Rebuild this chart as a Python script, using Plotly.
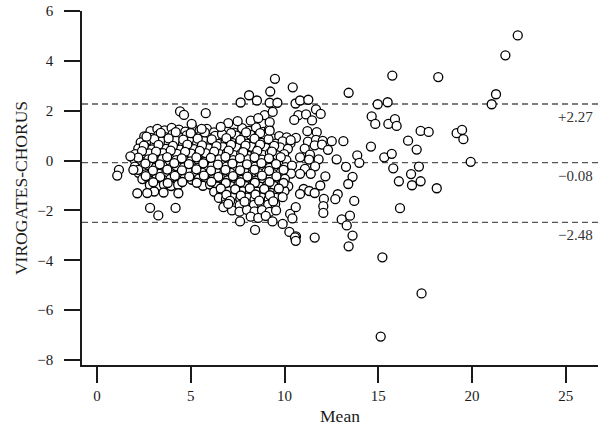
import plotly.graph_objects as go

# (mean, difference) pairs
pts_dense = [
    (2.85,1.18),(3.22,1.27),(3.61,1.21),(3.98,1.31),(4.37,1.24),(4.71,1.16),(5.12,1.29),(5.47,1.2),(5.86,1.27),(6.24,1.13),(6.92,1.22),(7.31,1.12),(7.74,1.3),(8.12,1.19),(8.48,1.33),(8.87,1.15),(9.18,1.26),
    (2.52,0.97),(2.88,0.91),(3.27,1.02),(3.63,0.94),(4.02,1.05),(4.41,0.93),(4.78,1.01),(5.16,0.95),(5.55,1.04),(5.91,0.92),(6.3,0.99),(6.67,1.06),(7.05,0.93),(7.43,1.0),(7.82,0.94),(8.2,1.03),(8.58,0.96),(8.95,1.02),(9.34,0.9),(9.72,0.98),(10.12,0.93),
    (2.33,0.73),(2.7,0.8),(3.08,0.69),(3.45,0.77),(3.82,0.71),(4.2,0.8),(4.59,0.68),(4.96,0.76),(5.34,0.7),(5.72,0.79),(6.1,0.72),(6.48,0.67),(6.86,0.78),(7.24,0.7),(7.62,0.76),(8.0,0.68),(8.39,0.79),(8.77,0.71),(9.15,0.74),(9.53,0.68),(9.9,0.77),(10.32,0.7),
    (2.2,0.48),(2.56,0.55),(2.93,0.45),(3.3,0.53),(3.68,0.47),(4.05,0.56),(4.43,0.44),(4.81,0.52),(5.18,0.46),(5.57,0.55),(5.95,0.49),(6.33,0.43),(6.71,0.54),(7.09,0.47),(7.47,0.52),(7.85,0.44),(8.24,0.55),(8.62,0.48),(9.0,0.51),(9.38,0.45),(9.77,0.53),(10.18,0.47),
    (2.04,0.26),(2.41,0.2),(2.78,0.29),(3.15,0.22),(3.52,0.3),(3.9,0.21),(4.27,0.27),(4.65,0.19),(5.03,0.28),(5.41,0.23),(5.79,0.3),(6.17,0.2),(6.55,0.26),(6.93,0.31),(7.31,0.22),(7.69,0.28),(8.07,0.19),(8.46,0.27),(8.84,0.23),(9.22,0.3),(9.61,0.21),(9.98,0.26),
    (2.0,0.03),(2.37,-0.04),(2.74,0.05),(3.11,-0.02),(3.48,0.06),(3.86,-0.05),(4.23,0.02),(4.61,0.07),(4.99,-0.03),(5.37,0.04),(5.75,-0.06),(6.13,0.03),(6.51,0.05),(6.89,-0.04),(7.27,0.02),(7.65,-0.05),(8.03,0.06),(8.42,-0.02),(8.8,0.04),(9.18,-0.05),(10.1,0.02),
    (2.02,-0.24),(2.39,-0.3),(2.76,-0.2),(3.13,-0.28),(3.5,-0.22),(3.88,-0.31),(4.25,-0.23),(4.63,-0.27),(5.01,-0.19),(5.39,-0.29),(5.77,-0.25),(6.15,-0.21),(6.53,-0.3),(6.91,-0.24),(7.29,-0.27),(7.67,-0.2),(8.05,-0.31),(8.44,-0.24),(8.82,-0.22),(9.2,-0.29),(10.05,-0.26),(10.4,-0.2),
    (2.22,-0.49),(2.59,-0.55),(2.96,-0.46),(3.33,-0.53),(3.7,-0.47),(4.08,-0.56),(4.46,-0.5),(4.84,-0.44),(5.22,-0.54),(5.6,-0.48),(5.98,-0.52),(6.36,-0.45),(6.74,-0.55),(7.12,-0.49),(7.5,-0.53),(7.88,-0.46),(8.27,-0.55),(8.65,-0.5),(9.03,-0.45),(9.41,-0.54),(9.8,-0.48),(10.35,-0.52),
    (2.42,-0.74),(2.8,-0.8),(3.17,-0.71),(3.54,-0.78),(3.92,-0.73),(4.3,-0.81),(4.68,-0.7),(5.06,-0.77),(5.44,-0.72),(5.82,-0.8),(6.2,-0.74),(6.58,-0.7),(6.96,-0.79),(7.34,-0.73),(7.72,-0.77),(8.1,-0.7),(8.49,-0.8),(8.87,-0.74),(9.25,-0.71),(9.63,-0.78),(10.02,-0.73),
    (2.82,-0.98),(3.2,-1.04),(3.57,-0.96),(3.95,-1.02),(4.33,-0.97),(5.65,-1.01),(6.03,-0.96),(6.41,-1.04),(6.79,-0.99),(7.17,-1.03),(7.55,-0.95),(7.93,-1.02),(8.31,-0.97),(8.7,-1.05),(9.08,-0.98),(9.46,-1.02),(9.85,-0.96),(10.2,-1.03),
    (3.05,-1.24),(3.55,-1.28),(6.25,-1.25),(6.63,-1.3),(7.01,-1.22),(7.39,-1.29),(7.77,-1.23),(8.15,-1.3),(8.53,-1.24),(8.91,-1.21),(9.29,-1.3),(9.67,-1.25),(10.0,-1.22),
    (6.5,-1.5),(6.88,-1.55),(7.26,-1.47),(7.64,-1.53),(8.02,-1.49),(8.4,-1.56),(8.78,-1.48),(9.16,-1.54),(9.54,-1.5),(9.9,-1.47),
    (6.85,-1.76),(7.23,-1.72),(7.61,-1.79),(7.99,-1.73),(8.37,-1.78),(8.75,-1.71),(9.13,-1.77),(9.5,-1.74),
    (7.2,-2.0),(7.6,-2.05),(8.0,-1.98),(8.4,-2.04),(8.8,-1.99),(9.2,-2.06),(9.55,-2.0),
    (8.2,-2.25),(8.6,-2.3),(9.0,-2.22),
]

pts_fill = [
    (3.4,1.11),(4.2,1.14),(5.0,1.1),(5.75,1.13),(7.15,1.1),(7.95,1.13),(8.7,1.1),
    (3.05,0.86),(3.82,0.89),(4.6,0.84),(5.37,0.88),(6.12,0.85),(6.9,0.9),(7.65,0.83),(8.4,0.88),(9.15,0.86),
    (2.5,0.6),(3.28,0.63),(4.05,0.59),(4.82,0.64),(5.6,0.61),(6.37,0.58),(7.15,0.63),(7.92,0.6),(8.7,0.64),(9.45,0.59),
    (2.4,0.38),(3.15,0.36),(3.93,0.4),(4.7,0.35),(5.48,0.39),(6.25,0.36),(7.02,0.4),(7.8,0.34),(8.55,0.39),(9.33,0.36),
    (2.2,0.12),(2.97,0.1),(3.74,0.14),(4.52,0.09),(5.3,0.13),(6.07,0.11),(6.85,0.15),(7.62,0.1),(8.4,0.13),(9.17,0.09),(9.8,0.14),
    (2.58,-0.12),(3.35,-0.15),(4.12,-0.1),(4.9,-0.14),(5.67,-0.11),(6.45,-0.16),(7.22,-0.12),(8.0,-0.15),(8.77,-0.1),(9.55,-0.14),
    (2.2,-0.37),(2.98,-0.4),(3.75,-0.36),(4.53,-0.39),(5.3,-0.35),(6.08,-0.4),(6.85,-0.37),(7.63,-0.39),(8.4,-0.36),(9.18,-0.41),(9.95,-0.37),
    (2.6,-0.62),(3.37,-0.65),(4.15,-0.61),(4.92,-0.64),(5.7,-0.6),(6.47,-0.65),(7.25,-0.62),(8.02,-0.64),(8.8,-0.6),(9.57,-0.63),
    (3.0,-0.87),(3.77,-0.9),(4.55,-0.86),(5.32,-0.89),(6.1,-0.85),(6.87,-0.9),(7.65,-0.87),(8.42,-0.89),(9.2,-0.86),(9.95,-0.9),
    (6.6,-1.12),(7.37,-1.15),(8.15,-1.11),(8.92,-1.14),(9.7,-1.12),
    (6.9,-1.37),(7.67,-1.4),(8.45,-1.36),(9.22,-1.39),
    (7.1,-1.62),(7.87,-1.65),(8.65,-1.61),(9.4,-1.64),
]

pts_left = [
    (1.17,-0.37),(1.08,-0.6),(1.78,0.17),(1.94,-0.37),(2.15,-1.31),(2.68,-1.3),(2.83,-1.9),(3.27,-2.2),
    (4.19,-1.9),(4.34,-1.31),(4.43,1.97),(4.64,1.83),(2.64,0.96),
]

pts_mid = [
    (5.8,1.9),(5.05,1.47),(5.58,1.27),(7.5,1.58),(7.66,2.33),(8.11,2.62),(8.53,2.41),(9.24,2.77),(9.21,2.32),
    (9.62,2.32),(9.49,3.28),(10.44,2.94),(10.59,2.29),(8.94,1.82),(9.37,1.95),(9.21,1.54),(10.74,1.82),(10.52,1.63),
    (9.21,1.2),(10.61,0.91),(10.33,0.82),(7.0,1.5),(6.6,1.35),(8.2,1.6),(8.6,1.7),
    (6.74,-1.87),(7.0,-1.74),(7.63,-2.44),(8.43,-2.78),(9.36,-2.44),(9.9,-2.54),(10.26,-2.86),(10.61,-3.04),
    (10.3,-2.14),(10.6,-1.87),(10.56,-3.08),(10.42,-2.32),(10.6,-3.22),
]

pts_right = [
    (10.83,2.41),(11.27,2.44),(11.68,2.05),(11.93,1.87),(11.15,1.85),(11.47,1.61),(11.22,1.18),(11.72,1.14),
    (11.25,0.76),(11.68,0.83),(12.04,0.79),(12.52,0.78),(13.14,0.78),(11.08,0.48),(11.61,0.61),(12.0,0.64),
    (12.32,0.43),(11.36,0.24),(11.82,0.05),(11.31,0.04),(10.83,0.13),(12.78,0.05),(13.88,0.21),(13.99,-0.09),
    (13.28,-0.25),(11.63,-0.23),(11.09,-0.33),(10.83,-0.53),(11.4,-0.53),(12.18,-0.63),(13.63,-0.65),(13.4,-0.94),
    (11.91,-1.0),(11.02,-1.14),(11.32,-1.22),(11.61,-1.3),(10.83,-1.34),(12.84,-1.35),(12.71,-1.55),(13.72,-1.62),
    (12.1,-1.54),(12.07,-1.83),(12.07,-2.1),(13.49,-2.21),(13.05,-2.36),(13.32,-2.6),(11.61,-3.09),(13.63,-3.01),
    (13.42,-3.44),(13.42,2.72),
    (14.97,2.26),(15.5,2.34),(14.65,1.77),(14.84,1.47),(15.54,1.47),(15.89,1.66),(15.98,1.39),(17.26,1.19),
    (17.69,1.15),(16.59,0.8),(17.05,0.44),(14.61,0.56),(15.32,0.13),(15.72,0.27),(15.8,-0.31),(17.17,-0.24),
    (16.75,-0.54),(16.1,-0.83),(16.8,-0.99),(17.26,-0.83),(16.16,-1.91),(15.75,3.41),
    (15.22,-3.88),(17.31,-5.33),(15.13,-7.06),
    (22.44,5.02),(21.78,4.22),(18.2,3.35),(21.28,2.66),(21.05,2.26),(19.18,1.1),(19.47,1.23),(19.54,0.86),
    (19.93,-0.05),(18.12,-1.11),
]

limits = [2.27, -0.08, -2.48]
limit_labels = ["+2.27", "\u22120.08", "\u22122.48"]
x_ticks = [0, 5, 10, 15, 20, 25]
y_ticks = [-8, -6, -4, -2, 0, 2, 4, 6]

all_pts = pts_dense + pts_fill + pts_left + pts_mid + pts_right
mean = [p[0] for p in all_pts]
diff = [p[1] for p in all_pts]

FONT = "Liberation Serif"
INK = "#1a1a1a"
fig = go.Figure()
fig.add_trace(go.Scatter(
    x=mean, y=diff, mode="markers",
    marker=dict(size=9, color="white", line=dict(color="black", width=1.3)),
    showlegend=False, hoverinfo="skip",
))

for v, lab in zip(limits, limit_labels):
    fig.add_shape(type="line", xref="paper", x0=0, x1=1, yref="y", y0=v, y1=v,
                  line=dict(color="#555555", width=1.3, dash="6px,4px"), layer="below")
    fig.add_annotation(xref="paper", x=0.995, xanchor="right", yref="y", y=v,
                       yanchor="top", yshift=-3, text=lab, showarrow=False,
                       font=dict(family=FONT, size=15, color="#333333"))

fig.update_layout(
    template="none",
    width=602, height=428,
    margin=dict(l=82, r=4, t=11, b=63),
    paper_bgcolor="white", plot_bgcolor="white",
    font=dict(family=FONT, size=15, color=INK),
)
fig.update_xaxes(
    range=[-0.8, 26.72], tickvals=x_ticks, showgrid=False, zeroline=False,
    showline=True, linecolor=INK, linewidth=1.5,
    ticks="outside", ticklen=16, tickwidth=1.5, tickcolor=INK,
    tickfont=dict(family=FONT, size=15, color=INK),
    title=dict(text="Mean", font=dict(family=FONT, size=17.5, color=INK), standoff=7),
)
fig.update_yaxes(
    range=[-8.2, 6.0], tickvals=y_ticks, showgrid=False, zeroline=False,
    showline=True, linecolor=INK, linewidth=1.5,
    ticks="outside", ticklen=16, tickwidth=1.5, tickcolor=INK,
    tickfont=dict(family=FONT, size=15, color=INK),
    ticklabelstandoff=8,
    title=dict(text="VIROGATES-CHORUS", font=dict(family=FONT, size=17.5, color=INK), standoff=5),
)

fig.write_html("out.html", config={"displayModeBar": False},
               post_script="document.body.style.margin='0';")
